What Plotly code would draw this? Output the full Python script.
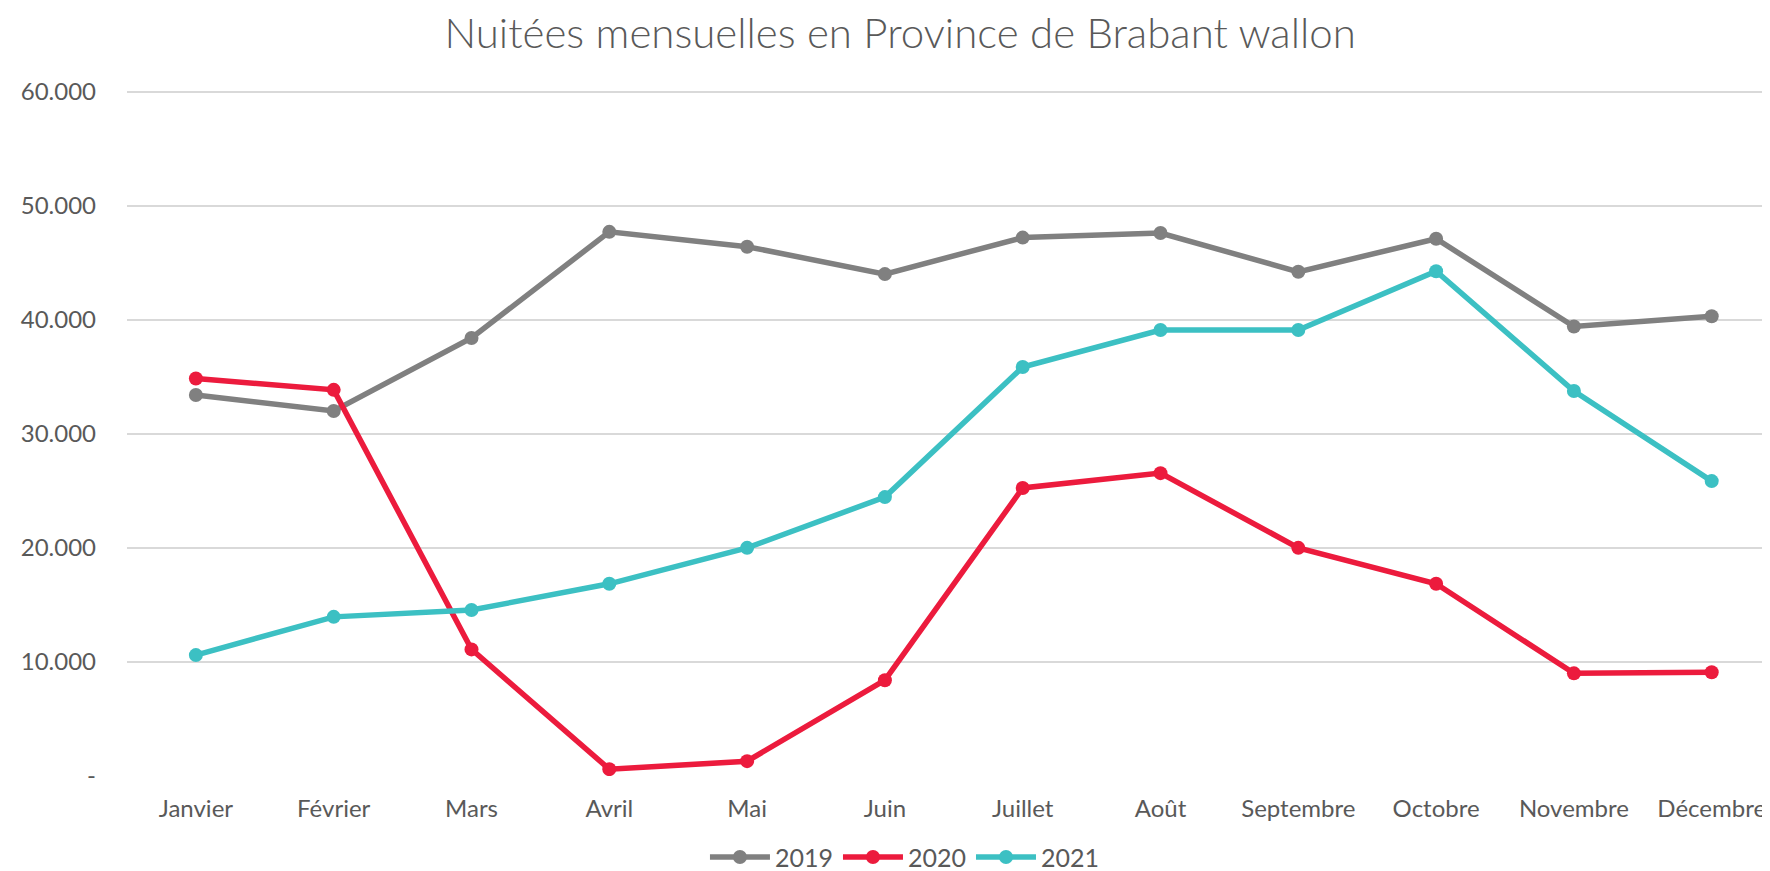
import plotly.graph_objects as go

months = ["Janvier", "Février", "Mars", "Avril", "Mai", "Juin", "Juillet",
          "Août", "Septembre", "Octobre", "Novembre", "Décembre"]
y2019 = [33400, 32000, 38400, 47700, 46400, 44000, 47200, 47600, 44200, 47100, 39400, 40300]
y2020 = [34850, 33850, 11100, 600, 1300, 8400, 25250, 26550, 20000, 16850, 9000, 9100]
y2021 = [10600, 13950, 14550, 16850, 20000, 24450, 35850, 39100, 39100, 44250, 33750, 25850]
series_names = ["2019", "2020", "2021"]
colors = ["#808080", "#EC1B3D", "#3CC0C3"]
ytick_vals = [0, 10000, 20000, 30000, 40000, 50000, 60000]
ytick_text = ["-", "10.000", "20.000", "30.000", "40.000", "50.000", "60.000"]

fig = go.Figure()
xs = list(range(len(months)))
for name, vals, c in zip(series_names, [y2019, y2020, y2021], colors):
    fig.add_trace(go.Scatter(x=xs, y=vals, name=name, mode="lines+markers",
                             line=dict(color=c, width=5.5),
                             marker=dict(color=c, size=14)))

# page body has an 8px default margin, so the figure is sized 8px smaller
fig.update_layout(
    width=1762, height=863,
    paper_bgcolor="white", plot_bgcolor="white",
    margin=dict(l=119, r=0, t=79, b=95),
    font=dict(family="Lato", color="#595959", size=24),
    title=dict(text="Nuitées mensuelles en Province de Brabant wallon",
               x=0.5063, xanchor="center", y=0.971, yanchor="middle",
               font=dict(family="Lato Light, Lato", size=42, color="#595959")),
    showlegend=True,
    legend=dict(orientation="h", x=0.4735, xanchor="center",
                yref="container", y=0.016, yanchor="middle",
                font=dict(size=25, color="#595959"), itemwidth=60, tracegroupgap=0),
    xaxis=dict(tickmode="array", tickvals=xs, ticktext=months, range=[-0.5, 11.423],
               showgrid=False, zeroline=False, showline=False, ticks="", automargin=False,
               ticklabelstandoff=16, tickfont=dict(size=24)),
    yaxis=dict(range=[0, 60400], tickmode="array", tickvals=ytick_vals, ticktext=ytick_text,
               showgrid=True, gridcolor="#D9D9D9", gridwidth=2, zeroline=False, automargin=False,
               showline=False, ticks="", ticklabelstandoff=30, tickfont=dict(size=24)),
)
fig.write_html("out.html")
